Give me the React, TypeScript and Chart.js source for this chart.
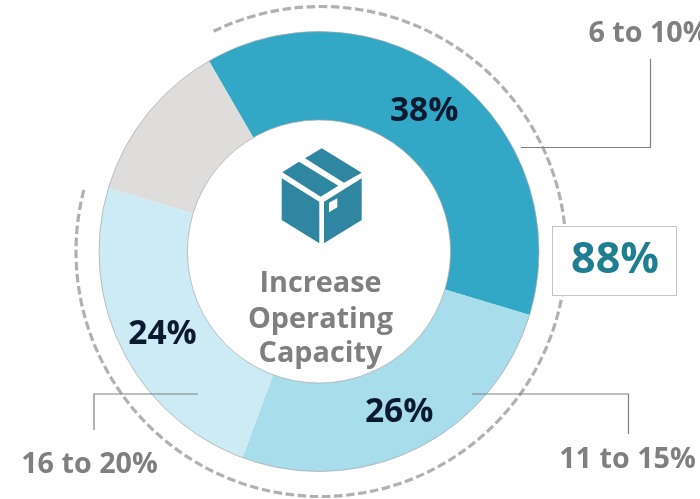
import React, { useEffect, useRef } from "react";
import { Chart, registerables } from "chart.js";

Chart.register(...registerables);

const categories = ["6 to 10%", "11 to 15%", "16 to 20%", "Other"];
const values = [38, 26, 24, 12];
const colors = ["#33A8C6", "#A8DDEB", "#CDEBF4", "#DEDDDC"];
const labelledSlices = [0, 1, 2];
const labelOffsets = [[-4, -2], [2, 4], [1, 5]];
const totalLabel = "88%";
const titleLines = ["Increase", "Operating", "Capacity"];

const FONT = '"Open Sans", sans-serif';
const GREY = "#7F7F7F";
const rad = (d: number) => ((d - 90) * Math.PI) / 180;

const poly = (ctx: CanvasRenderingContext2D, pts: number[][], fill: string) => {
  ctx.fillStyle = fill;
  ctx.beginPath();
  pts.forEach(([x, y], i) => (i ? ctx.lineTo(x, y) : ctx.moveTo(x, y)));
  ctx.closePath();
  ctx.fill();
};

const line = (ctx: CanvasRenderingContext2D, pts: number[][]) => {
  ctx.strokeStyle = "#808080";
  ctx.lineWidth = 1.2;
  ctx.beginPath();
  pts.forEach(([x, y], i) => (i ? ctx.lineTo(x, y) : ctx.moveTo(x, y)));
  ctx.stroke();
};

const decorations = {
  id: "decorations",
  afterDatasetsDraw(chart: any) {
    const ctx: CanvasRenderingContext2D = chart.ctx;
    const arcs = chart.getDatasetMeta(0).data;
    const { x: cx, y: cy, outerRadius, innerRadius } = arcs[0].getProps(
      ["x", "y", "outerRadius", "innerRadius"],
      true
    );
    ctx.save();

    // thin ring outlines
    ctx.strokeStyle = "#A8A8A8";
    ctx.lineWidth = 0.7;
    [outerRadius, innerRadius].forEach((r: number) => {
      ctx.beginPath();
      ctx.arc(cx, cy, r, 0, Math.PI * 2);
      ctx.stroke();
    });

    // dashed arc
    ctx.strokeStyle = "#B2B0B2";
    ctx.lineWidth = 3.2;
    ctx.setLineDash([8.5, 3.6]);
    ctx.beginPath();
    ctx.arc(cx + 2, cy, 245, rad(-26), rad(284.8));
    ctx.stroke();
    ctx.setLineDash([]);

    // leader lines
    line(ctx, [[521, 147.5], [650.5, 147.5], [650.5, 59]]);
    line(ctx, [[472, 394], [628.5, 394], [628.5, 434]]);
    line(ctx, [[198, 394], [94, 394], [94, 430]]);

    // total box
    ctx.fillStyle = "#FFFFFF";
    ctx.fillRect(552.5, 226.5, 124, 69);
    ctx.strokeStyle = "#C6C4C6";
    ctx.lineWidth = 1;
    ctx.strokeRect(552.5, 226.5, 124, 69);

    ctx.textAlign = "center";
    ctx.textBaseline = "middle";

    ctx.fillStyle = "#1F7E92";
    ctx.font = `bold 43px ${FONT}`;
    ctx.fillText(totalLabel, 615, 261);

    // slice percentages
    ctx.fillStyle = "#0B1A30";
    ctx.font = `bold 33.5px ${FONT}`;
    labelledSlices.forEach((i) => {
      const p = arcs[i].getCenterPoint();
      ctx.fillText(`${values[i]}%`, p.x + labelOffsets[i][0], p.y + labelOffsets[i][1]);
    });

    // category labels
    ctx.fillStyle = GREY;
    ctx.font = `bold 28.7px ${FONT}`;
    ctx.fillText(categories[0], 648.5, 34);
    ctx.fillText(categories[1], 627.5, 460);
    ctx.fillText(categories[2], 89.5, 465);

    // centre title
    ctx.font = `bold 28.8px ${FONT}`;
    titleLines.forEach((t, i) => ctx.fillText(t, 320.5, [284, 320, 354][i]));

    // box icon
    const teal = "#2F86A0";
    poly(ctx, [[321.7, 148.3], [361.7, 172.7], [344, 182.7], [305, 158.3]], teal);
    poly(ctx, [[299, 161.7], [338.3, 185.7], [320.7, 196.7], [282.3, 172.3]], teal);
    poly(ctx, [[281.7, 178.3], [319.3, 201.7], [319.3, 243.3], [281.7, 220]], teal);
    poly(ctx, [[361.7, 178.3], [324, 201.7], [324, 243.3], [361.7, 220]], teal);
    poly(ctx, [[329, 202.7], [337.3, 198.3], [337.3, 207.3], [329, 212.3]], "#FFFFFF");

    ctx.restore();
  },
};

export default function App() {
  const ref = useRef<HTMLCanvasElement>(null);
  useEffect(() => {
    const chart = new Chart(ref.current as HTMLCanvasElement, {
      type: "doughnut",
      data: {
        labels: categories,
        datasets: [{ data: values, backgroundColor: colors, borderWidth: 0 }],
      },
      options: {
        animation: false,
        responsive: false,
        rotation: -30,
        cutout: "59.8%",
        layout: { padding: { left: 99, right: 161, top: 31.5, bottom: 27.5 } },
        plugins: { legend: { display: false }, tooltip: { enabled: false } },
      },
      plugins: [decorations],
    } as any);
    return () => chart.destroy();
  }, []);
  return (
    <canvas
      ref={ref}
      width={700}
      height={499}
      style={{ position: "absolute", left: 0, top: 0, width: 700, height: 499 }}
    />
  );
}
